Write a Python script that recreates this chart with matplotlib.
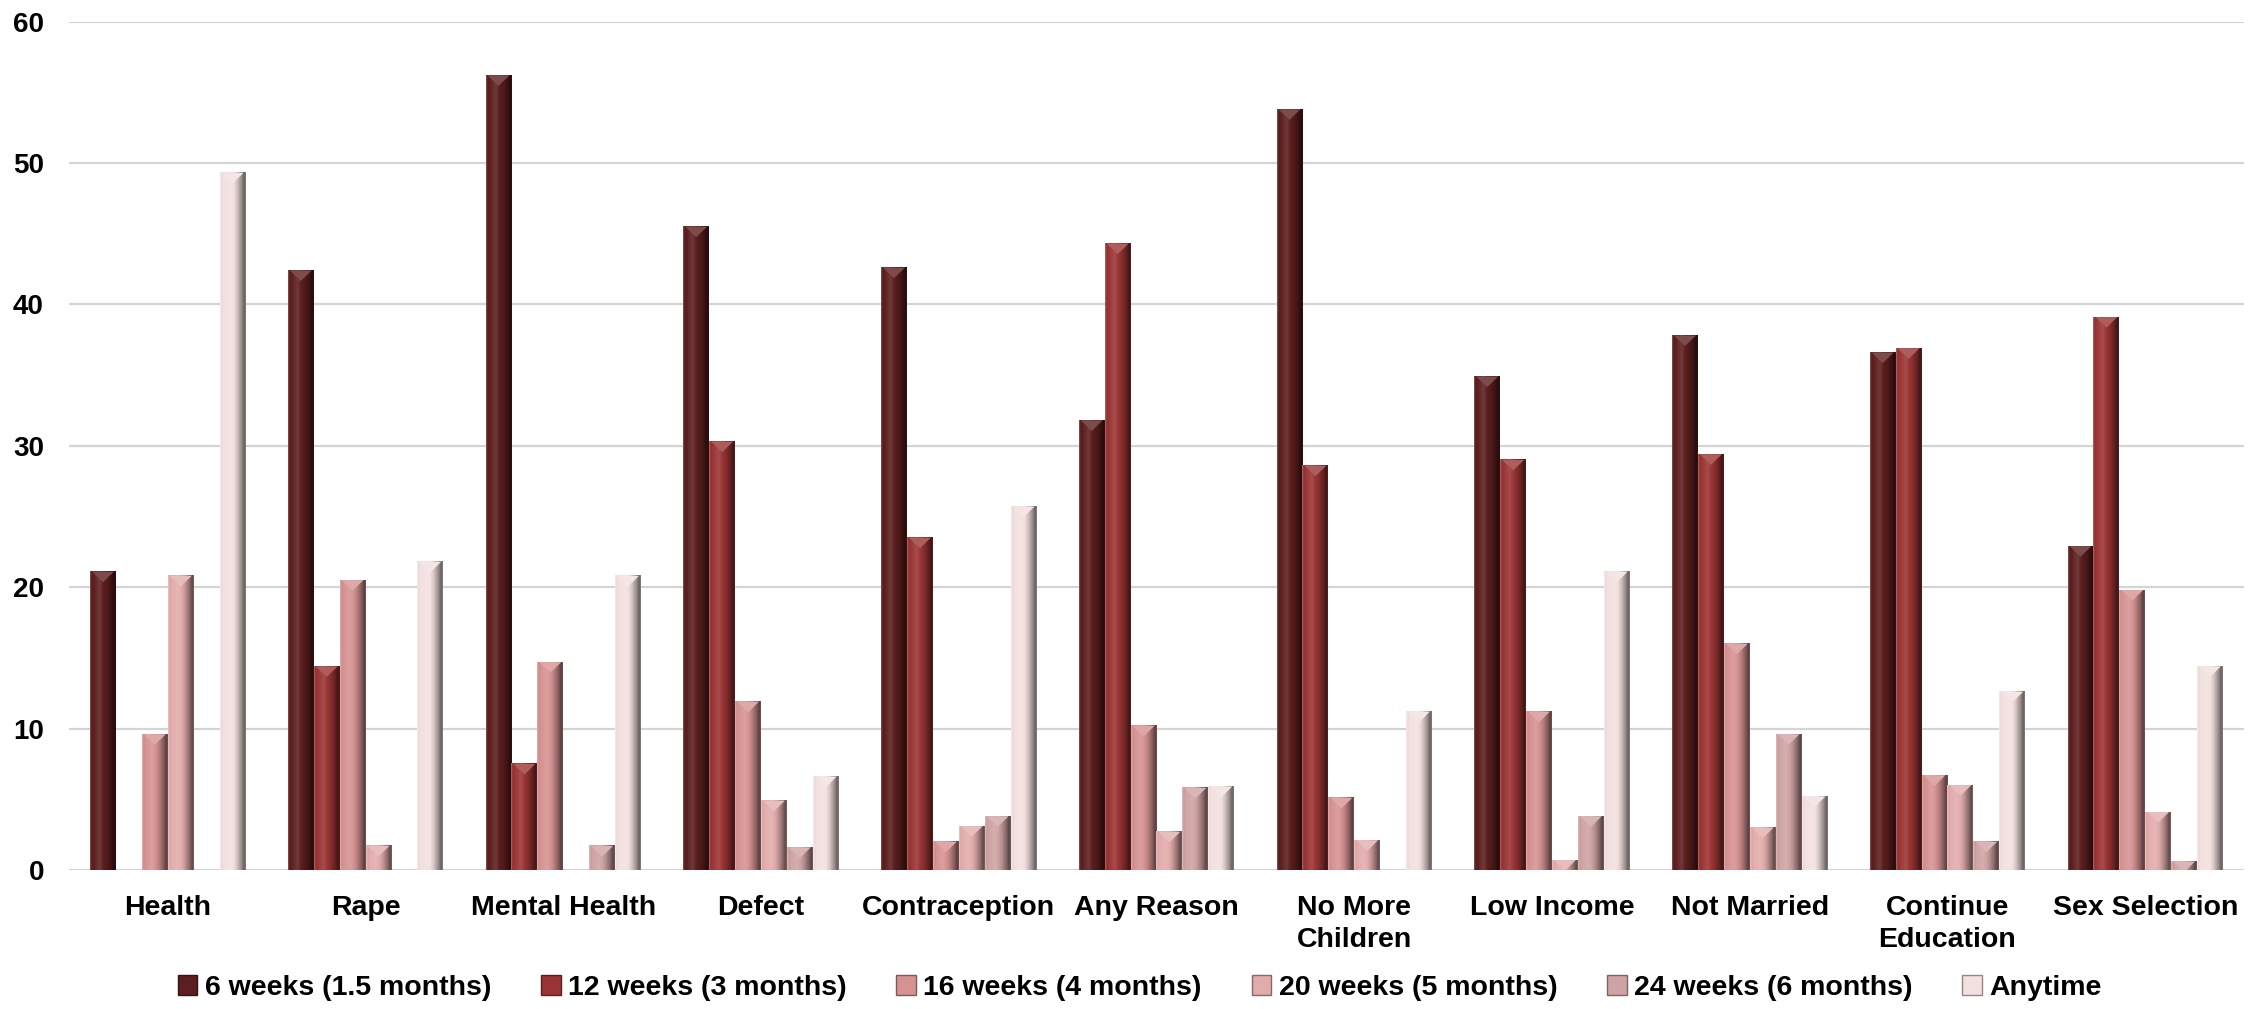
import numpy as np
import matplotlib
matplotlib.use('Agg')
from matplotlib import pyplot as plt
from matplotlib.patches import Patch, Polygon
from matplotlib.colors import to_rgb

categories = ['Health', 'Rape', 'Mental Health', 'Defect', 'Contraception', 'Any Reason',
              'No More\nChildren', 'Low Income', 'Not Married', 'Continue\nEducation', 'Sex Selection']
series_names = ['6 weeks (1.5 months)', '12 weeks (3 months)', '16 weeks (4 months)',
                '20 weeks (5 months)', '24 weeks (6 months)', 'Anytime']

wk6 = [21.1, 42.4, 56.2, 45.5, 42.6, 31.8, 53.8, 34.9, 37.8, 36.6, 22.9]
wk12 = [0, 14.4, 7.5, 30.3, 23.5, 44.3, 28.6, 29.0, 29.4, 36.9, 39.1]
wk16 = [9.6, 20.5, 14.7, 11.9, 2.0, 10.2, 5.1, 11.2, 16.0, 6.7, 19.8]
wk20 = [20.8, 1.7, 0, 4.9, 3.1, 2.7, 2.1, 0.7, 3.0, 6.0, 4.1]
wk24 = [0, 0, 1.7, 1.6, 3.8, 5.8, 0, 3.8, 9.6, 2.0, 0.6]
anytime = [49.3, 21.8, 20.8, 6.6, 25.7, 5.9, 11.2, 21.1, 5.2, 12.6, 14.4]

series = [wk6, wk12, wk16, wk20, wk24, anytime]
colors = ['#5c1e1e', '#9a3434', '#d69292', '#e2acac', '#cfa3a3', '#f3e0e0']

label_font = ['Liberation Sans', 'DejaVu Sans']

fig = plt.figure(figsize=(22.59, 10.09), dpi=100)
ax = fig.add_axes([0.0305, 0.1378, 0.9629, 0.8408])

# horizontal shading profile for the bevelled bars
knots_t = [0.0, 0.06, 0.12, 0.38, 0.65, 0.85, 0.94, 1.0]
knots_m = [1.25, 0.95, 1.0, 1.12, 0.88, 0.6, 0.42, 0.55]
t = np.linspace(0, 1, 60)
mult = np.interp(t, knots_t, knots_m)


def shade(color, m):
    c = np.array(to_rgb(color))
    if m >= 1:
        return c + (1 - c) * (m - 1)
    return c * m


x = np.arange(len(categories))
w = 0.131
for i, vals in enumerate(series):
    bars = ax.bar(x + (i - 2.5) * w, vals, w, color=colors[i], zorder=2)
    grad = np.array([[shade(colors[i], m) for m in mult]])
    for b in bars:
        h = b.get_height()
        if h <= 0:
            continue
        x0 = b.get_x()
        x1 = x0 + b.get_width()
        ax.imshow(grad, extent=[x0, x1, 0, h], aspect='auto', zorder=3,
                  interpolation='bilinear')
        tri = Polygon([[x0 + 0.01, h], [x1 - 0.01, h], [(x0 + x1) / 2, h - 0.75]],
                      closed=True, facecolor=shade(colors[i], 1.2), edgecolor='none', zorder=4)
        ax.add_patch(tri)

ax.set_xlim(-0.5, len(categories) - 0.5)
ax.set_ylim(0, 60)
ax.set_yticks(range(0, 61, 10))
ax.yaxis.grid(True, color='#d4d4d4', linewidth=1.6, zorder=0)
ax.set_axisbelow(True)
for s in ax.spines.values():
    s.set_visible(False)

ax.set_xticks(x)
ax.set_xticklabels(categories, fontsize=20.5, fontweight='bold', family=label_font,
                   linespacing=1.3, va='top')
ax.tick_params(axis='x', length=0, pad=18)
ax.tick_params(axis='y', length=0, pad=18, labelsize=20)
for lbl in ax.get_yticklabels():
    lbl.set_fontweight('bold')
    lbl.set_family(label_font)

handles = [Patch(facecolor=colors[i], edgecolor=shade(colors[i], 0.6), label=series_names[i])
           for i in range(6)]
fig.legend(handles=handles, loc='center', bbox_to_anchor=(0.5045, 0.021), ncol=6,
           frameon=False, handlelength=0.7, handleheight=0.7, handletextpad=0.25,
           columnspacing=1.75, borderpad=0.1,
           prop={'family': label_font, 'weight': 'bold', 'size': 20.5})

fig.savefig('out.png', dpi=100)
